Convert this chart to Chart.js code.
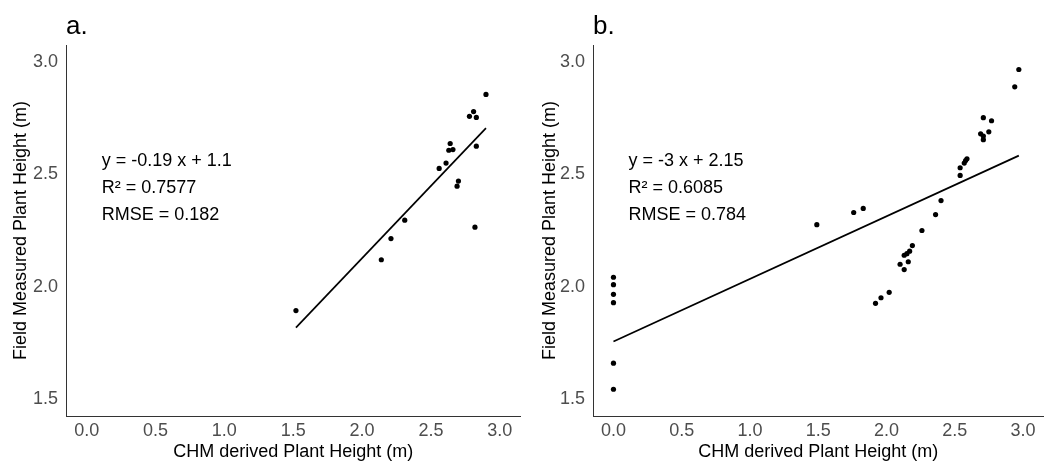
<!DOCTYPE html>
<html><head><meta charset="utf-8">
<script src="https://cdn.jsdelivr.net/npm/chart.js@4"></script>
<style>
html,body{margin:0;padding:0;background:#fff;width:1046px;height:464px;overflow:hidden}
#wa{position:absolute;left:0;top:0;width:523px;height:464px}
#wb{position:absolute;left:523px;top:0;width:523px;height:464px}
</style></head><body>
<div id="wa"><canvas id="ca" width="523" height="464"></canvas></div>
<div id="wb"><canvas id="cb" width="523" height="464"></canvas></div>
<script>
// ---- data ----
const xTicks = [0, 0.5, 1.0, 1.5, 2.0, 2.5, 3.0];
const xTickLabels = ['0.0', '0.5', '1.0', '1.5', '2.0', '2.5', '3.0'];
const yTicks = [1.5, 2.0, 2.5, 3.0];
const yTickLabels = ['1.5', '2.0', '2.5', '3.0'];
const xTitle = 'CHM derived Plant Height (m)';
const yTitle = 'Field Measured Plant Height (m)';

// panel a
const aX = [1.52, 2.14, 2.21, 2.31, 2.56, 2.61, 2.64, 2.63, 2.66, 2.70, 2.69, 2.78, 2.81, 2.83, 2.83, 2.82, 2.90];
const aY = [1.894, 2.120, 2.214, 2.296, 2.526, 2.550, 2.637, 2.607, 2.610, 2.470, 2.447, 2.758, 2.779, 2.753, 2.625, 2.265, 2.855];
const aFitX = [1.52, 2.90];
const aFitY = [1.818, 2.705];
const aText = ['y = -0.19 x + 1.1', 'R\u00B2 = 0.7577', 'RMSE = 0.182'];

// panel b
const bX = [0, 0, 0, 0, 0, 0, 1.49, 1.76, 1.83, 1.92, 1.96, 2.02, 2.10, 2.13, 2.13, 2.15, 2.16, 2.17, 2.19, 2.26, 2.36, 2.40, 2.54, 2.54, 2.57, 2.58, 2.59, 2.69, 2.71, 2.71, 2.71, 2.75, 2.77, 2.94, 2.97];
const bY = [2.042, 2.009, 1.966, 1.929, 1.660, 1.544, 2.276, 2.330, 2.348, 1.926, 1.951, 1.975, 2.100, 2.076, 2.140, 2.147, 2.111, 2.158, 2.183, 2.250, 2.321, 2.383, 2.495, 2.529, 2.550, 2.561, 2.569, 2.680, 2.670, 2.654, 2.752, 2.689, 2.738, 2.889, 2.966];
const bFitX = [0, 2.97];
const bFitY = [1.756, 2.583];
const bText = ['y = -3 x + 2.15', 'R\u00B2 = 0.6085', 'RMSE = 0.784'];

// ---- drawing ----
const FONT = "'Liberation Sans', Arial, sans-serif";

function makePanel(id, xs, ys, fx, fy, letter, lines, cfg) {
  const pts = xs.map((x, i) => ({x: x, y: ys[i]}));
  const fit = fx.map((x, i) => ({x: x, y: fy[i]}));
  const annot = {
    id: 'annot_' + id,
    afterDraw(chart) {
      const ctx = chart.ctx;
      const xs = chart.scales.x, ysc = chart.scales.y;
      ctx.save();
      ctx.fillStyle = '#000';
      ctx.textAlign = 'left';
      ctx.textBaseline = 'alphabetic';
      ctx.font = '18px ' + FONT;
      const tx = xs.getPixelForValue(0.11);
      const ty = ysc.getPixelForValue(2.536);
      lines.forEach((t, i) => ctx.fillText(t, tx, ty + i * 27));
      ctx.font = '26px ' + FONT;
      ctx.fillText(letter, chart.chartArea.left, 33.5);
      ctx.restore();
    }
  };
  return new Chart(document.getElementById(id), {
    type: 'scatter',
    data: {
      datasets: [
        {data: pts, backgroundColor: '#000', borderColor: '#000', pointRadius: 2.6, pointBorderWidth: 0, pointHoverRadius: 2.6},
        {data: fit, showLine: true, borderColor: '#000', borderWidth: 1.7, pointRadius: 0, fill: false}
      ]
    },
    options: {
      responsive: false,
      animation: false,
      events: [],
      layout: {padding: {top: 45, right: 0, bottom: 0, left: 0}},
      plugins: {legend: {display: false}, tooltip: {enabled: false}, title: {display: false}},
      scales: {
        x: {
          type: 'linear', min: -0.15, max: 3.15,
          afterBuildTicks: s => { s.ticks = xTicks.map(v => ({value: v})); },
          afterFit: s => { s.height = 48; },
          ticks: {padding: 4, color: '#4d4d4d', font: {family: FONT, size: 18}, maxRotation: 0,
                  callback: (v, i) => xTickLabels[i]},
          grid: {display: false, drawTicks: false},
          border: {display: true, color: '#333', width: 1},
          title: {display: true, text: xTitle, color: '#000', font: {family: FONT, size: 18}, padding: {top: 0, bottom: 1.5}}
        },
        y: {
          type: 'linear', min: 1.425, max: 3.075,
          afterBuildTicks: s => { s.ticks = yTicks.map(v => ({value: v})); },
          afterFit: s => { s.width = cfg.yw; },
          ticks: {padding: cfg.ytp, color: '#4d4d4d', font: {family: FONT, size: 18},
                  callback: (v, i) => yTickLabels[i]},
          grid: {display: false, drawTicks: false},
          border: {display: true, color: '#333', width: 1},
          title: {display: true, text: yTitle, color: '#000', font: {family: FONT, size: 18}, padding: {top: cfg.ytitle, bottom: 0}}
        }
      }
    },
    plugins: [annot]
  });
}

makePanel('ca', aX, aY, aFitX, aFitY, 'a.', aText, {yw: 66, ytp: 8, ytitle: 10});
makePanel('cb', bX, bY, bFitX, bFitY, 'b.', bText, {yw: 70, ytp: 8, ytitle: 16});
</script>
</body></html>
